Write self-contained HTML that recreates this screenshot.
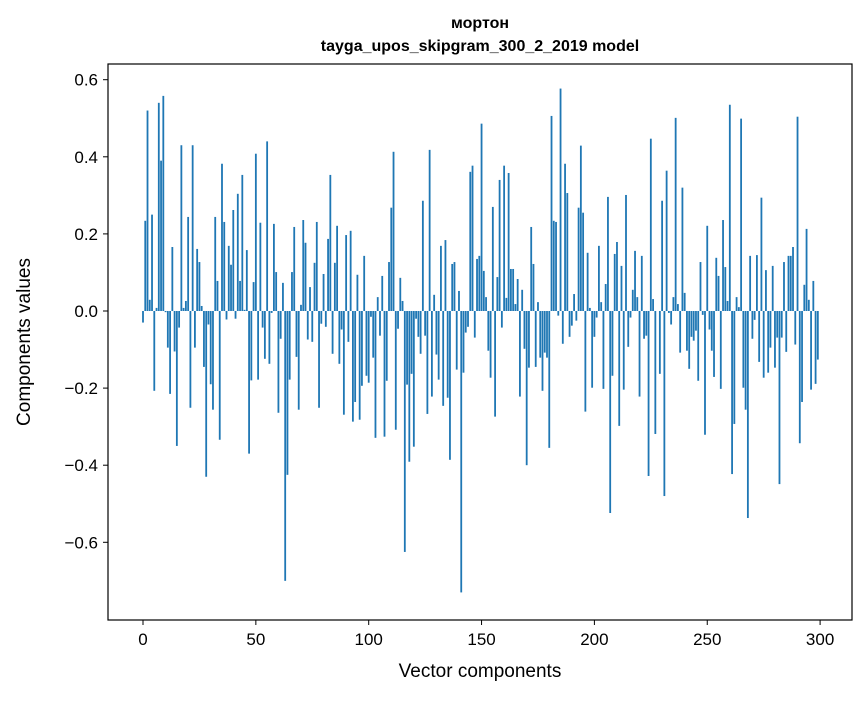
<!DOCTYPE html>
<html><head><meta charset="utf-8"><style>
body{margin:0;background:#fff;}
svg text{font-family:"Liberation Sans","DejaVu Sans",sans-serif;fill:#000;}
</style></head><body>
<svg id="chart" width="867" height="696" xmlns="http://www.w3.org/2000/svg">
<rect width="867" height="696" fill="#fff"/>
<text x="480" y="28" text-anchor="middle" font-size="16" font-weight="bold">мортон</text>
<text x="480" y="51" text-anchor="middle" font-size="16" font-weight="bold">tayga_upos_skipgram_300_2_2019 model</text>
<g id="bars"></g>
<g id="axes"></g>
<rect x="108" y="64" width="744" height="556" fill="none" stroke="#000" stroke-width="1.2"/>
<text x="480" y="677" text-anchor="middle" font-size="19">Vector components</text>
<text transform="translate(30,342) rotate(-90)" text-anchor="middle" font-size="19">Components values</text>
</svg>
<script>
const values = [
-0.03,0.234,0.52,0.029,0.25,-0.207,0.008,0.54,0.39,0.558,
-0.003,-0.095,-0.215,0.166,-0.105,-0.35,-0.043,0.43,0.008,0.026,
0.244,-0.251,0.43,-0.095,0.161,0.127,0.013,-0.145,-0.43,-0.035,
-0.19,-0.256,0.244,0.078,-0.334,0.382,0.231,-0.022,0.169,0.12,
0.262,-0.02,0.304,0.078,0.353,0.003,0.158,-0.37,-0.18,0.075,
0.408,-0.178,0.229,-0.043,-0.124,0.44,-0.137,-0.005,0.226,0.101,
-0.264,-0.072,0.073,-0.70,-0.425,-0.178,0.101,0.218,-0.119,-0.256,
0.016,0.236,0.177,-0.074,0.062,-0.08,0.125,0.231,-0.251,-0.033,
0.096,-0.041,0.187,0.353,-0.111,0.125,0.221,-0.137,-0.048,-0.269,
0.197,-0.08,0.208,-0.287,-0.236,0.094,-0.282,-0.194,0.143,-0.168,
-0.186,-0.015,-0.121,-0.329,0.036,-0.064,0.091,-0.326,-0.181,0.127,
0.268,0.413,-0.308,-0.046,0.086,0.026,-0.625,-0.191,-0.391,-0.163,
-0.352,-0.02,-0.067,-0.111,0.286,-0.064,-0.267,0.418,-0.222,0.042,
-0.113,-0.178,0.169,-0.246,0.184,-0.225,-0.386,0.122,0.127,-0.152,
0.052,-0.73,-0.16,-0.056,-0.041,0.361,0.377,-0.069,0.135,0.143,
0.486,0.104,0.036,-0.103,-0.173,0.27,-0.274,0.088,0.34,-0.043,
0.377,0.034,0.358,0.109,0.109,0.018,0.083,-0.222,0.055,-0.098,
-0.4,-0.147,0.218,0.122,-0.145,0.023,-0.121,-0.207,-0.108,-0.121,
-0.355,0.506,0.234,0.231,-0.012,0.577,-0.085,0.382,0.306,-0.067,
-0.038,0.044,-0.025,0.268,0.429,0.255,-0.261,0.151,0.008,-0.199,
-0.067,-0.017,0.169,0.023,-0.202,0.07,0.296,-0.524,-0.168,0.148,
0.179,-0.298,0.117,-0.204,0.301,-0.093,-0.017,0.055,0.156,0.036,
-0.222,0.143,-0.072,-0.064,-0.428,0.447,0.031,-0.319,0.0,-0.163,
0.286,-0.48,0.364,-0.005,-0.035,0.036,0.501,0.018,-0.108,0.32,
0.047,-0.103,-0.15,-0.067,-0.077,-0.051,-0.181,0.127,-0.01,-0.321,
0.221,-0.048,-0.103,-0.171,0.138,0.091,-0.202,0.236,0.114,0.026,
0.535,-0.423,-0.293,0.036,0.01,0.499,-0.199,-0.256,-0.537,0.143,
-0.072,-0.023,0.145,-0.132,0.294,-0.173,0.106,-0.16,-0.095,0.117,
-0.147,-0.069,-0.449,-0.069,0.127,-0.106,0.143,0.143,0.166,-0.087,
0.504,-0.343,-0.236,0.068,0.213,0.029,-0.204,0.078,-0.189,-0.126
];
const xTicks = [0,50,100,150,200,250,300];
const yTicks = [-0.6,-0.4,-0.2,0.0,0.2,0.4,0.6];

const NS = "http://www.w3.org/2000/svg";
function xScale(i){ return 143 + i*2.257; }
function yScale(v){ return 311 - v*385.5; }
const bars = document.getElementById('bars');
const axes = document.getElementById('axes');
const bw = 2.257*0.8;
values.forEach((v,i)=>{
  const r = document.createElementNS(NS,'rect');
  const y0 = yScale(0), y1 = yScale(v);
  r.setAttribute('x', xScale(i)-bw/2);
  r.setAttribute('y', Math.min(y0,y1));
  r.setAttribute('width', bw);
  r.setAttribute('height', Math.max(Math.abs(y1-y0),0.01));
  r.setAttribute('fill', '#1f77b4');
  
  
  bars.appendChild(r);
});
xTicks.forEach(t=>{
  const x = xScale(t);
  const l = document.createElementNS(NS,'line');
  l.setAttribute('x1',x);l.setAttribute('x2',x);l.setAttribute('y1',620);l.setAttribute('y2',625);
  l.setAttribute('stroke','#000');
  
  
  axes.appendChild(l);
  const tx = document.createElementNS(NS,'text');
  tx.setAttribute('x',x);tx.setAttribute('y',645);tx.setAttribute('text-anchor','middle');tx.setAttribute('font-size','17');
  tx.textContent = t;
  
  
  axes.appendChild(tx);
});
yTicks.forEach(t=>{
  const y = yScale(t);
  const l = document.createElementNS(NS,'line');
  l.setAttribute('x1',103);l.setAttribute('x2',108);l.setAttribute('y1',y);l.setAttribute('y2',y);
  l.setAttribute('stroke','#000');
  
  
  axes.appendChild(l);
  const tx = document.createElementNS(NS,'text');
  tx.setAttribute('x',98);tx.setAttribute('y',y+6);tx.setAttribute('text-anchor','end');tx.setAttribute('font-size','17');
  tx.textContent = (t<0?'\u2212':'') + Math.abs(t).toFixed(1);
  
  
  axes.appendChild(tx);
});
</script>
</body></html>
